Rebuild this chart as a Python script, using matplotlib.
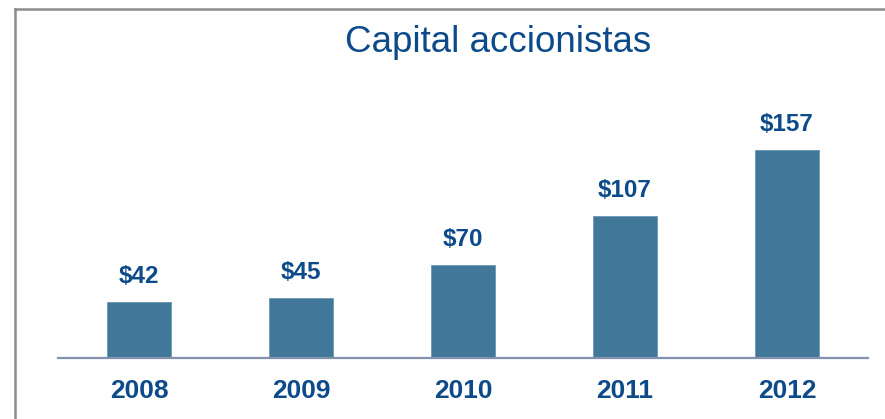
import matplotlib.pyplot as plt
from matplotlib.lines import Line2D

years = ["2008", "2009", "2010", "2011", "2012"]
capital = [42, 45, 70, 107, 157]
value_labels = ["$42", "$45", "$70", "$107", "$157"]

bar_color = "#41789a"
text_color = "#0d4a8a"

plt.rcParams["font.family"] = ["Liberation Sans", "DejaVu Sans"]

fig = plt.figure(figsize=(8.85, 4.19), dpi=100)
# axes placed so the baseline sits where the reference has it
ax = fig.add_axes([58 / 885, 1 - 357.7 / 419, 810 / 885, (357.7 - 60) / 419])

x = range(len(years))
ax.bar(x, capital, width=0.395, color=bar_color, edgecolor="#6d97b3", linewidth=0.6, zorder=2)

for i, (v, lab) in enumerate(zip(capital, value_labels)):
    ax.annotate(lab, (i, v), xytext=(0, 10), textcoords="offset points",
                ha="center", va="bottom", fontsize=17.5, fontweight="bold", color=text_color)

ax.set_xlim(-0.5, len(years) - 0.5)
ax.set_ylim(0, 225)
ax.set_xticks(list(x))
ax.set_xticklabels(years, fontsize=19, fontweight="bold", color=text_color)
ax.tick_params(axis="x", length=0, pad=15)
ax.set_yticks([])
for s in ["top", "right", "left"]:
    ax.spines[s].set_visible(False)
ax.spines["bottom"].set_color("#8291ad")
ax.spines["bottom"].set_linewidth(1.6)

fig.text(498.5 / 885, 1 - 52 / 419, "Capital accionistas", ha="center", va="baseline",
         fontsize=26.5, color=text_color)

# frame lines of the original slide box
fig.add_artist(Line2D([15 / 885, 1], [1 - 9 / 419, 1 - 9 / 419], color="#8c8c8c", lw=1.8))
fig.add_artist(Line2D([15 / 885, 15 / 885], [0, 1 - 9 / 419], color="#8c8c8c", lw=1.8))

fig.savefig("out.png", dpi=100)
